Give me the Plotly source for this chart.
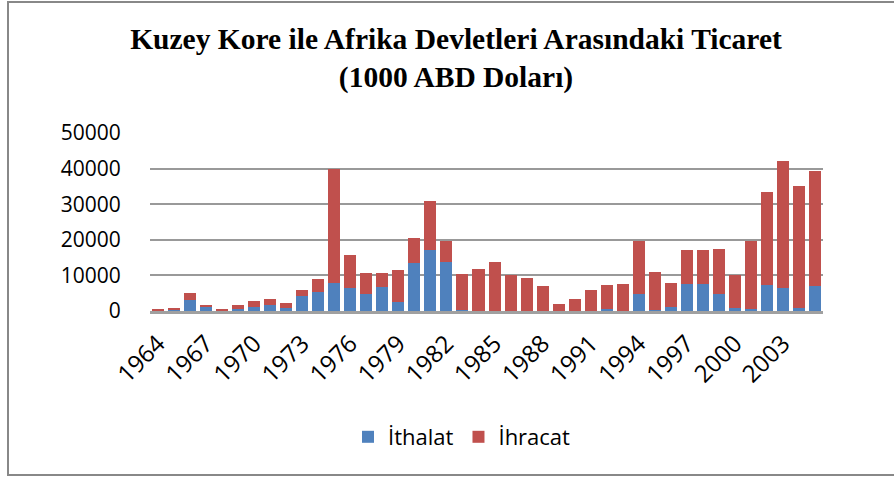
import plotly.graph_objects as go

years = [str(y) for y in range(1964, 2006)]
ithalat = [0, 200, 3000, 1000, 0, 600, 1200, 1800, 900, 4200, 5300, 7800, 6500, 4800,
           6800, 2500, 13600, 17000, 13900, 200, 0, 0, 0, 0, 0, 0, 0, 0,
           700, 100, 4700, 400, 1200, 7700, 7700, 4700, 800, 700, 7300, 6400, 800, 6900]
totals = [300, 800, 5000, 1800, 500, 1800, 2800, 3500, 2300, 5800, 9000, 40000, 15800, 10700,
          10700, 11500, 20500, 30800, 19800, 10400, 11800, 13700, 10100, 9400, 7100, 2100, 3300, 6000,
          7400, 7700, 19600, 10900, 8000, 17000, 17000, 17300, 10200, 19600, 33300, 42000, 35100, 39200]
ihracat = [t - i for t, i in zip(totals, ithalat)]
tick_years = [str(y) for y in range(1964, 2006, 3)]
y_ticks = [0, 10000, 20000, 30000, 40000, 50000]

L, R, T, B = 150, 71, 133, 167
W, H = 894, 478
pw, ph = W - L - R, H - T - B

fig = go.Figure()
fig.add_trace(go.Bar(x=years, y=ithalat, name="İthalat", marker_color="#4F81BD",
                     marker_line_width=0))
fig.add_trace(go.Bar(x=years, y=ihracat, name="İhracat", marker_color="#C0504D",
                     marker_line_width=0))

fig.update_layout(
    width=W, height=H, barmode="stack", bargap=0.25,
    margin=dict(l=L, r=R, t=T, b=B),
    plot_bgcolor="white", paper_bgcolor="white",
    title=dict(text="<b>Kuzey Kore ile Afrika Devletleri Arasındaki Ticaret<br>(1000 ABD Doları)</b>",
               x=456 / W, xanchor="center", y=1 - 49 / H, yanchor="top",
               font=dict(family="Liberation Serif", size=29.5, color="black")),
    font=dict(family="Open Sans", size=21, color="black"),
    legend=dict(orientation="h", x=(462 - L) / pw, xanchor="center",
                y=(H - B - 437) / ph, yanchor="middle",
                font=dict(family="Open Sans", size=22), itemwidth=30, traceorder="normal"),
    showlegend=True,
)
fig.update_xaxes(type="category", tickmode="array", tickvals=tick_years, ticktext=tick_years,
                 tickangle=-45, ticks="outside", ticklen=6, tickcolor="rgba(0,0,0,0)",
                 showgrid=False, showline=True, linecolor="#A0A0A0", linewidth=3,
                 range=[-0.5, len(years) - 0.5], tickfont=dict(size=24))
fig.update_yaxes(range=[0, 50000], tickvals=y_ticks, tickformat="d", showgrid=True,
                 gridcolor="#999999", gridwidth=2, zeroline=False, showline=False,
                 ticks="outside", ticklen=24, tickcolor="rgba(0,0,0,0)", tickfont=dict(size=21))

# outer chart border
fig.add_shape(type="rect", xref="paper", yref="paper",
              x0=(8 - L) / pw, x1=(W + 10 - L) / pw,
              y0=(H - B - 475) / ph, y1=(H - B - 2) / ph,
              line=dict(color="#888888", width=2), fillcolor="rgba(0,0,0,0)", layer="below")

fig.write_html("out.html", config={"displayModeBar": False},
               post_script="document.body.style.margin='0';")
